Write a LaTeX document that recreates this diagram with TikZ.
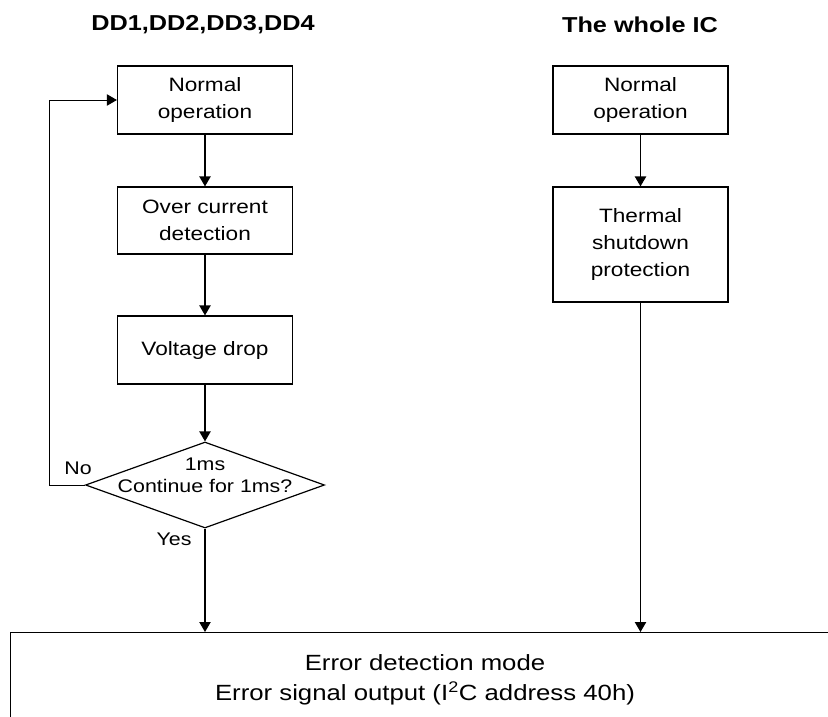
\documentclass[tikz,border=0pt]{standalone}
\usepackage{fontspec}
\setmainfont{Liberation Sans}[FakeStretch=1.17]
\usetikzlibrary{shapes.geometric,arrows.meta}
\begin{document}
\begin{tikzpicture}[x=0.75pt,y=-0.75pt,
  every node/.style={font=\fontsize{14.5}{20}\selectfont, align=center},
  procbox/.style={draw, line width=0.9pt, rectangle, minimum width=131.25pt, inner sep=0pt},
  decbox/.style={draw, line width=0.9pt, diamond, minimum width=179.25pt, minimum height=64.5pt, inner sep=0pt},
  title/.style={font=\fontsize{16.2}{20}\selectfont\bfseries},
  small/.style={font=\fontsize{13.7}{16.5}\selectfont},
  big/.style={font=\fontsize{16.5}{22.5}\selectfont},
  arr/.style={line width=0.9pt, -{Triangle[length=7.5pt,width=8.5pt]}},
  thin/.style={line width=0.7pt}
]
\useasboundingbox (0,0) rectangle (828,717);
\clip (0,0) rectangle (828,717);
% titles
\node[title] (t1) at (203,25) {DD1,DD2,DD3,DD4};
\node[title] (t2) at (640,25) {The whole IC};
% left column
\node[procbox, minimum height=51pt] (n1) at (205,100) {Normal\\operation};
\node[procbox, minimum height=50.25pt] (n2) at (205,220.5) {Over current\\detection};
\node[procbox, minimum height=51pt] (n3) at (205,350) {Voltage drop};
\node[decbox] (d) at (205,485) {};
\node[small] (dtext) at (205,475) {1ms\\Continue for 1ms?};
% right column
\node[procbox, minimum height=51pt] (m1) at (640.5,100) {Normal\\operation};
\node[procbox, minimum height=86.25pt] (m2) at (640.5,244.5) {Thermal\\shutdown\\protection};
% bottom box
\node[draw, line width=0.9pt, rectangle, anchor=north west, minimum width=660pt, minimum height=90pt, inner sep=0pt] (e) at (10,632) {};
\node[big] (etext) at (425,680) {Error detection mode\\Error signal output (I\textsuperscript{2}C address 40h)};
% labels
\node[small] (no) at (78,468) {No};
\node[small] (yes) at (174,539) {Yes};
% connectors
\draw[arr] (n1) -- (n2);
\draw[arr] (n2) -- (n3);
\draw[arr] (n3) -- (d.north);
\draw[arr] (d.south) -- (d.south |- e.north);
\draw[arr, thin] (d.west) -- ++(-35,0) |- (n1.west);
\draw[arr] (m1) -- (m2);
\draw[arr] (m2.south) -- (m2.south |- e.north);
\end{tikzpicture}
\end{document}
